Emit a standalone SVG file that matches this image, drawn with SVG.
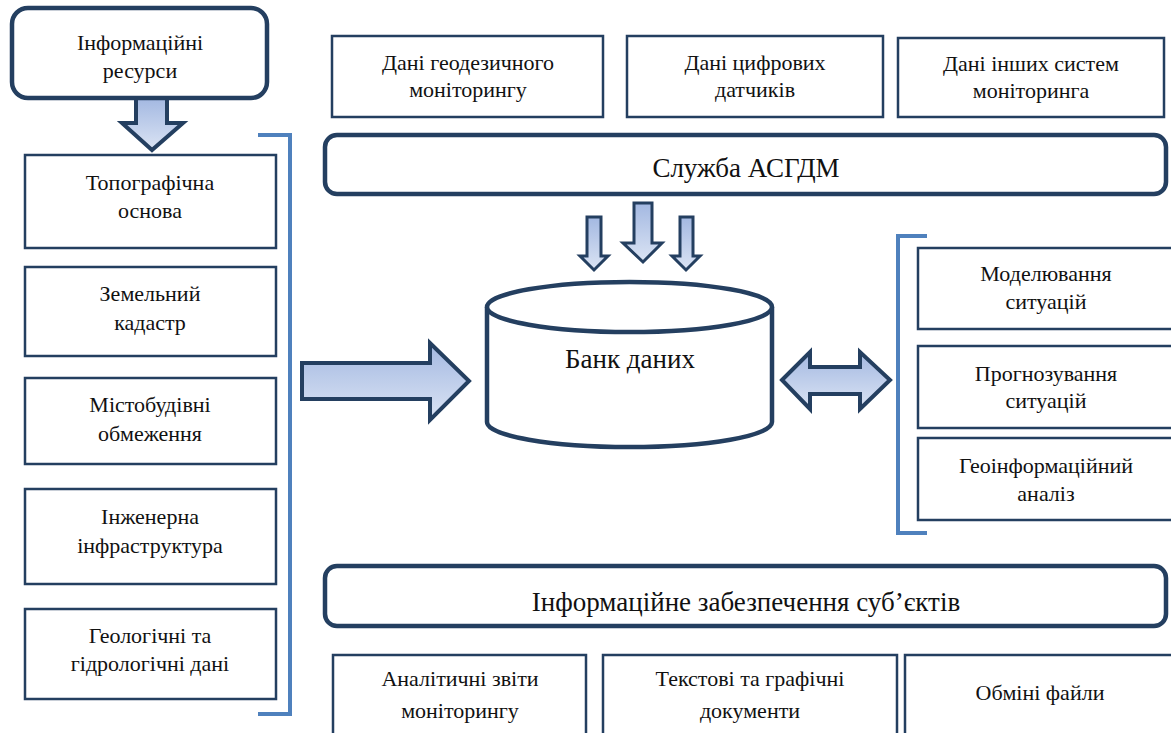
<svg xmlns="http://www.w3.org/2000/svg" width="1171" height="733" viewBox="0 0 1171 733">
<defs>
<linearGradient id="gv" x1="0" y1="0" x2="0" y2="1">
<stop offset="0" stop-color="#a3b8e1"/>
<stop offset="1" stop-color="#dbe4f4"/>
</linearGradient>
<style>
text{font-family:'Liberation Serif','Times New Roman',serif;fill:#111;text-anchor:middle}
.t{font-size:22px}
.tl{font-size:27px}
.box{fill:#fff;stroke:#243f60;stroke-width:2.5}
.rbox{fill:#fff;stroke:#243f60;stroke-width:4.5}
.arr{fill:url(#gv);stroke:#243f60;stroke-width:4;stroke-linejoin:miter}
.arrs{fill:url(#gv);stroke:#243f60;stroke-width:3}
.br{fill:none;stroke:#4f81bd;stroke-width:4}
</style>
</defs>
<rect width="1171" height="733" fill="#fff"/>

<g id="connectors">
<polygon class="arr" points="136,98 167,98 167,123 183,123 152,150 122,123 136,123"/>
<polygon class="arr" points="302,363 430,363 430,343 469,381 430,420 430,399 302,399"/>
<polygon class="arr" points="782,380 810,352 810,367 860,367 860,352 890,380 860,409 860,394 810,394 810,409"/>
<polygon class="arrs" points="587,217 601,217 601,256 608,256 594,270 580,256 587,256"/>
<polygon class="arrs" points="634,203 652,203 652,243 662,243 643,262 623,243 634,243"/>
<polygon class="arrs" points="680,217 693,217 693,256 700,256 686,270 672,256 680,256"/>
<path class="br" d="M258,135 L290,135 L290,714 L258,714"/>
<path class="br" d="M927,236 L898,236 L898,533 L927,533"/>
</g>

<g id="info-resources">
<rect class="rbox" x="12" y="8" width="255" height="90" rx="16"/>
<text class="t" font-size="23" x="140" y="50">Інформаційні</text>
<text class="t" font-size="23" x="140" y="78">ресурси</text>
</g>

<g id="topo">
<rect class="box" x="25" y="155" width="251" height="93"/>
<text class="t" x="150" y="190">Топографічна</text>
<text class="t" x="150" y="218">основа</text>
</g>
<g id="cadastre">
<rect class="box" x="25" y="267" width="251" height="89"/>
<text class="t" x="150" y="301">Земельний</text>
<text class="t" x="150" y="330">кадастр</text>
</g>
<g id="urban">
<rect class="box" x="25" y="378" width="251" height="86"/>
<text class="t" x="150" y="412">Містобудівні</text>
<text class="t" x="150" y="441">обмеження</text>
</g>
<g id="infra">
<rect class="box" x="25" y="489" width="251" height="95"/>
<text class="t" x="150" y="524">Інженерна</text>
<text class="t" x="150" y="553">інфраструктура</text>
</g>
<g id="geo">
<rect class="box" x="25" y="609" width="251" height="90"/>
<text class="t" x="150" y="643">Геологічні та</text>
<text class="t" x="150" y="671">гідрологічні дані</text>
</g>

<g id="geodetic">
<rect class="box" x="332" y="36" width="271" height="81"/>
<text class="t" x="468" y="70">Дані геодезичного</text>
<text class="t" x="468" y="97">моніторингу</text>
</g>
<g id="sensors">
<rect class="box" x="627" y="36" width="256" height="81"/>
<text class="t" x="755" y="70">Дані цифрових</text>
<text class="t" x="755" y="97">датчиків</text>
</g>
<g id="other-systems">
<rect class="box" x="898" y="38" width="266" height="79" stroke-width="3"/>
<text class="t" x="1031" y="71">Дані інших систем</text>
<text class="t" x="1031" y="98">моніторинга</text>
</g>

<g id="service">
<rect class="rbox" x="325" y="135" width="841" height="59" rx="12"/>
<text class="tl" x="746" y="177">Служба АСГДМ</text>
</g>

<g id="databank">
<path d="M487,307 L487,422 A142.5,25 0 0 0 772,422 L772,307" fill="#fff" stroke="#243f60" stroke-width="4.5"/>
<ellipse cx="629.5" cy="307" rx="142.5" ry="25" fill="#fff" stroke="#243f60" stroke-width="4.5"/>
<text class="tl" x="630" y="368">Банк даних</text>
</g>

<g id="modeling">
<rect class="box" x="918" y="248" width="260" height="81"/>
<text class="t" x="1046" y="281">Моделювання</text>
<text class="t" x="1046" y="309">ситуацій</text>
</g>
<g id="forecast">
<rect class="box" x="918" y="346" width="260" height="82"/>
<text class="t" x="1046" y="381">Прогнозування</text>
<text class="t" x="1046" y="408">ситуацій</text>
</g>
<g id="gis">
<rect class="box" x="918" y="438" width="260" height="82"/>
<text class="t" x="1046" y="473">Геоінформаційний</text>
<text class="t" x="1046" y="501">аналіз</text>
</g>

<g id="info-support">
<rect class="rbox" x="325" y="566" width="841" height="60" rx="12"/>
<text class="tl" x="746" y="611">Інформаційне забезпечення суб’єктів</text>
</g>

<g id="reports">
<rect class="box" x="333" y="655" width="253" height="90"/>
<text class="t" x="460" y="686">Аналітичні звіти</text>
<text class="t" x="460" y="718">моніторингу</text>
</g>
<g id="documents">
<rect class="box" x="603" y="655" width="294" height="90"/>
<text class="t" x="750" y="686">Текстові та графічні</text>
<text class="t" x="750" y="718">документи</text>
</g>
<g id="files">
<rect class="box" x="905" y="655" width="280" height="90"/>
<text class="t" x="1040" y="700">Обміні файли</text>
</g>
</svg>
